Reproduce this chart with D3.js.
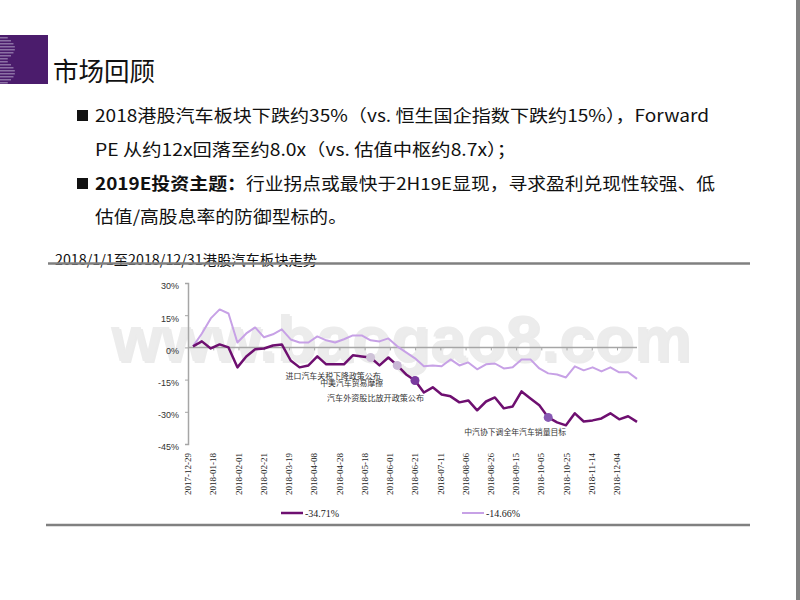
<!DOCTYPE html>
<html><head><meta charset="utf-8">
<script src="https://cdn.jsdelivr.net/npm/d3@7/dist/d3.min.js"></script>
<style>html,body{margin:0;padding:0;background:#fff;} svg{display:block;}</style>
</head><body><svg id="c" width="800" height="600"></svg>
<script>
// ---- data ----
const tickLabels = ["2017-12-29","2018-01-18","2018-02-01","2018-02-21","2018-03-19","2018-04-08","2018-04-28","2018-05-18","2018-06-01","2018-06-21","2018-07-11","2018-08-06","2018-08-26","2018-09-15","2018-10-05","2018-10-25","2018-11-14","2018-12-04"];
const sectorValues = [0.5,2.8,-0.5,1.4,0,-9.3,-4.2,-0.9,-0.5,0.9,1.4,-6.1,-9.3,-8.4,-4.2,-7.9,-7.9,-7.9,-3.7,-4.2,-4.7,-8.4,-4.7,-8.4,-12.6,-15.4,-21.0,-18.6,-21.9,-22.8,-25.6,-24.7,-29.3,-25.2,-23.3,-28.4,-27.5,-20.5,-23.8,-27.0,-32.6,-34.9,-36.3,-30.7,-34.5,-34.0,-33.1,-30.7,-33.5,-32.1,-34.71];
const indexValues = [0.5,6.5,13.5,17.7,15.8,2.3,6.5,9.3,4.7,6.1,8.4,3.7,2.3,2.3,5.1,3.3,2.3,3.8,5.6,5.6,3.3,2.8,4.2,0.5,-2.3,-5.1,-8.8,-8.4,-8.8,-5.6,-8.4,-7.0,-10.2,-7.9,-7.5,-9.8,-9.3,-5.6,-5.6,-9.8,-12.1,-12.6,-14.0,-8.8,-10.7,-9.3,-11.2,-9.3,-11.6,-11.6,-14.66];
const yTicks = [30,15,0,-15,-30,-45];
const legendLabels = ["-34.71%","-14.66%"];
const eventIndex = [20,23,25,40];
const eventLabels = ["进口汽车关税下降政策公布","中美汽车贸易摩擦","汽车外资股比放开政策公布","中汽协下调全年汽车销量目标"];

// ---- layout / style ----
const C_DARK = "#6e0f70", C_LIGHT = "#c7a1e6";
const markerColors = ["#cfc3d8","#c9b7d6","#7a3b9f","#8759b3"];
const labelLayout = [{dx:10,dy:22,w:95},{dx:-14,dy:21,w:63},{dx:9,dy:21,w:97},{dx:18,dy:18,w:102}];

const svg = d3.select("#c");
svg.append("rect").attr("width",800).attr("height",600).attr("fill","#fff");

// right border
svg.append("rect").attr("x",796).attr("y",0).attr("width",4).attr("height",600).attr("fill","#808080");

// logo block
svg.append("rect").attr("x",0).attr("y",35).attr("width",48).attr("height",49).attr("fill","#4b1c6c");
const stripes = d3.range(16);
svg.append("g").selectAll("rect").data(stripes).join("rect")
  .attr("x",0).attr("y",d=>37+d*3).attr("height",1.5)
  .attr("width",d=>6+9*Math.sin(Math.PI*((d%8)+0.5)/8))
  .attr("fill","#8b70a4");

// title
svg.append("text").attr("x",53).attr("y",81).attr("font-family","Noto Sans CJK SC")
  .attr("font-size",26).attr("fill","#111").attr("textLength",102).attr("lengthAdjust","spacingAndGlyphs").text("市场回顾");

// bullets
const bf = "Noto Sans CJK SC";
function txt(x,y,s,len,bold){
  return svg.append("text").attr("x",x).attr("y",y).attr("font-family",bf).attr("font-size",17)
    .attr("font-weight",bold?"bold":"normal").attr("fill","#111")
    .attr("textLength",len).attr("lengthAdjust","spacingAndGlyphs").text(s);
}
svg.append("rect").attr("x",77).attr("y",110).attr("width",11).attr("height",11).attr("fill","#111");
svg.append("rect").attr("x",77).attr("y",178).attr("width",11).attr("height",11).attr("fill","#111");
txt(95,122,"2018港股汽车板块下跌约35%（vs. 恒生国企指数下跌约15%），Forward",614);
txt(95,156,"PE 从约12x回落至约8.0x（vs. 估值中枢约8.7x）；",421);
txt(95,190,"2019E投资主题：",151,true);
txt(246,190,"行业拐点或最快于2H19E显现，寻求盈利兑现性较强、低",469);
txt(95,223,"估值/高股息率的防御型标的。",252);

// subtitle + rules
svg.append("text").attr("x",55).attr("y",265).attr("font-family",bf).attr("font-size",14).attr("fill","#111")
  .attr("textLength",262).attr("lengthAdjust","spacingAndGlyphs").text("2018/1/1至2018/12/31港股汽车板块走势");
svg.append("line").attr("x1",48).attr("x2",750).attr("y1",263.5).attr("y2",263.5).attr("stroke","#808080").attr("stroke-width",2.5);
svg.append("line").attr("x1",46).attr("x2",750).attr("y1",525).attr("y2",525).attr("stroke","#808080").attr("stroke-width",2.5);

// scales
const x = d3.scalePoint().domain(d3.range(sectorValues.length)).range([193,637]);
const xt = d3.scalePoint().domain(tickLabels).range([188,617]);
const y = d3.scaleLinear().domain([-45,30]).range([444,283]);

// watermark
svg.append("text").attr("x",113).attr("y",363).attr("font-family","Liberation Sans").attr("font-weight","bold")
  .attr("font-size",64).attr("fill","#d8d8d8").attr("opacity",0.5).attr("textLength",580).attr("lengthAdjust","spacingAndGlyphs").text("www.baogao8.com");
svg.append("text").attr("x",111).attr("y",361).attr("font-family","Liberation Sans").attr("font-weight","bold")
  .attr("font-size",64).attr("fill","#ececec").attr("textLength",580).attr("lengthAdjust","spacingAndGlyphs").text("www.baogao8.com");

// y axis
const yAxis = svg.append("g").attr("transform","translate(188,0)")
  .call(d3.axisLeft(y).tickValues(yTicks).tickSize(3).tickFormat(d=>d+"%"));
yAxis.select(".domain").attr("stroke","#a6a6a6").attr("stroke-width",1.5);
yAxis.selectAll(".tick line").attr("stroke","#a6a6a6");
yAxis.selectAll(".tick text").attr("x",-9).attr("dy","0.65em").attr("font-family","Liberation Sans").attr("font-size",9).attr("fill","#333");

// x axis at zero
const xAxis = svg.append("g").attr("transform",`translate(0,${y(0)})`)
  .call(d3.axisBottom(xt).tickSize(3).tickFormat(""));
xAxis.select(".domain").remove();
xAxis.selectAll(".tick line").attr("stroke","#a6a6a6");
svg.append("line").attr("x1",188).attr("x2",637).attr("y1",y(0)).attr("y2",y(0)).attr("stroke","#a6a6a6").attr("stroke-width",1.5);

// x labels at bottom
svg.append("g").selectAll("text").data(tickLabels).join("text")
  .attr("transform",d=>`translate(${xt(d)},453) rotate(-90)`)
  .attr("text-anchor","end").attr("dy","0.35em")
  .attr("font-family","Liberation Serif").attr("font-size",9).attr("fill","#222").text(d=>d);

// lines
const line = d3.line().x((d,i)=>x(i)).y(d=>y(d));
svg.append("path").datum(indexValues).attr("d",line).attr("fill","none").attr("stroke",C_LIGHT).attr("stroke-width",2).attr("stroke-linejoin","round");
svg.append("path").datum(sectorValues).attr("d",line).attr("fill","none").attr("stroke",C_DARK).attr("stroke-width",2.5).attr("stroke-linejoin","round");

// event markers
svg.append("g").selectAll("circle").data(eventIndex).join("circle")
  .attr("cx",d=>x(d)).attr("cy",d=>y(sectorValues[d])).attr("r",4.5)
  .attr("fill",(d,i)=>markerColors[i]);
svg.append("g").selectAll("text").data(eventIndex).join("text")
  .attr("x",(d,i)=>x(d)+labelLayout[i].dx).attr("y",(d,i)=>y(sectorValues[d])+labelLayout[i].dy)
  .attr("text-anchor","end").attr("font-family",bf).attr("font-size",8).attr("fill","#333")
  .attr("textLength",(d,i)=>labelLayout[i].w).attr("lengthAdjust","spacingAndGlyphs")
  .text((d,i)=>eventLabels[i]);

// legend
const legX = [281,462];
const legColors = [C_DARK,C_LIGHT];
const leg = svg.append("g").selectAll("g").data(legendLabels).join("g").attr("transform",(d,i)=>`translate(${legX[i]},513)`);
leg.append("line").attr("x1",0).attr("x2",22).attr("stroke",(d,i)=>legColors[i]).attr("stroke-width",(d,i)=>i?2:2.5);
leg.append("text").attr("x",24).attr("dy","0.35em").attr("font-family","Liberation Serif").attr("font-size",10).attr("fill","#222").text(d=>d);
</script></body></html>
